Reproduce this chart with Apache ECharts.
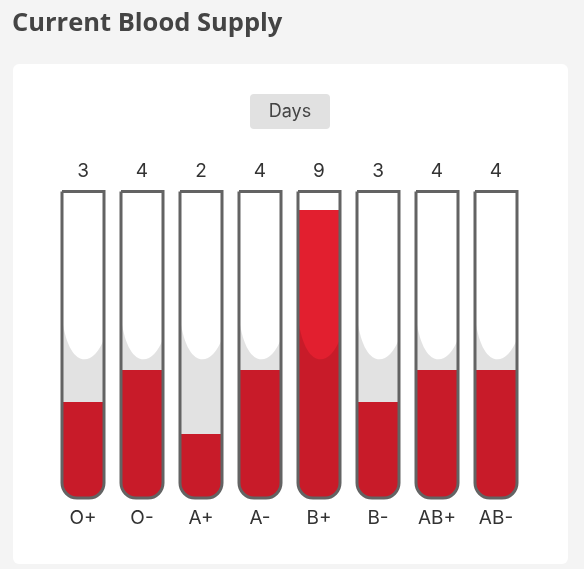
<!DOCTYPE html>
<html>
<head>
<meta charset="utf-8">
<script src="https://cdn.jsdelivr.net/npm/echarts@6/dist/echarts.min.js"></script>
<style>
  html, body { margin: 0; padding: 0; background: #f4f4f4; }
  #blood-chart { width: 584px; height: 569px; }
</style>
</head>
<body>
<div id="blood-chart"></div>
<script>
// blood types and days of supply on hand
const bloodTypes = ['O+', 'O-', 'A+', 'A-', 'B+', 'B-', 'AB+', 'AB-']
const daysSupply = [3, 4, 2, 4, 9, 3, 4, 4]

const labelFont = 'Inter, "Noto Sans", sans-serif'

function renderTube (params, api) {
  const idx = api.value(0)
  const days = api.value(1)
  const cs = params.coordSys
  const base = api.coord([idx, 0])
  const cx = base[0]
  const bottom = base[1]
  const top = cs.y
  const level = api.coord([idx, days])[1]
  const half = 21
  const r = 15
  const L = cx - half
  const R = cx + half
  const y0 = top + 128
  // shadow / meniscus overlay on the lower part of the tube
  const shadowPath = 'M' + L + ' ' + y0 +
    ' C' + (cx - 14) + ' ' + (top + 180) + ' ' + (cx + 10) + ' ' + (top + 178) + ' ' + R + ' ' + (top + 149) +
    ' L' + R + ' ' + (bottom - r) +
    ' A' + r + ' ' + r + ' 0 0 1 ' + (R - r) + ' ' + bottom +
    ' L' + (L + r) + ' ' + bottom +
    ' A' + r + ' ' + r + ' 0 0 1 ' + L + ' ' + (bottom - r) + ' Z'
  return {
    type: 'group',
    children: [
      {
        type: 'rect',
        shape: { x: L, y: top, width: half * 2, height: bottom - top, r: [0, 0, r, r] },
        style: { fill: '#ffffff' }
      },
      {
        type: 'rect',
        shape: { x: L, y: level, width: half * 2, height: bottom - level, r: [0, 0, r, r] },
        style: { fill: '#e21f2f' }
      },
      {
        type: 'path',
        shape: { pathData: shadowPath, x: L, y: y0, width: half * 2, height: bottom - y0, layout: 'cover' },
        style: { fill: 'rgba(0,0,0,0.115)' }
      },
      {
        type: 'rect',
        shape: { x: L, y: top + 1.5, width: half * 2, height: bottom - top - 1.5, r: [0, 0, r, r] },
        style: { fill: 'none', stroke: '#636363', lineWidth: 3 }
      },
      {
        type: 'text',
        x: cx,
        y: top - 19,
        style: {
          text: String(days),
          align: 'center',
          verticalAlign: 'middle',
          fontSize: 19,
          fontFamily: labelFont,
          fill: '#333'
        }
      }
    ]
  }
}

const chart = echarts.init(document.getElementById('blood-chart'))
const option = {
  backgroundColor: '#f4f4f4',
  title: {
    text: 'Current Blood Supply',
    left: 7,
    top: 6,
    textStyle: {
      fontFamily: '"Open Sans", sans-serif',
      fontWeight: 'bold',
      fontSize: 25.5,
      color: '#444'
    }
  },
  graphic: [
    {
      type: 'rect',
      z: -10,
      shape: { x: 13, y: 64, width: 555, height: 500, r: 6 },
      style: { fill: '#ffffff' }
    },
    {
      type: 'rect',
      shape: { x: 250, y: 94, width: 80, height: 35, r: 4 },
      style: { fill: '#e1e1e1' }
    },
    {
      type: 'text',
      x: 290,
      y: 111.5,
      style: {
        text: 'Days',
        align: 'center',
        verticalAlign: 'middle',
        fontSize: 18,
        fontFamily: labelFont,
        fill: '#444'
      }
    }
  ],
  grid: {
    left: 53.5,
    right: 58.5,
    top: 190,
    bottom: 71
  },
  xAxis: {
    type: 'category',
    data: bloodTypes,
    axisLine: { show: false },
    axisTick: { show: false },
    axisLabel: {
      margin: 11,
      color: '#333',
      fontSize: 19,
      fontFamily: labelFont
    }
  },
  yAxis: {
    type: 'value',
    min: 0,
    max: 9.625,
    show: false
  },
  series: [{
    type: 'custom',
    renderItem: renderTube,
    encode: { x: 0, y: 1 },
    data: daysSupply.map((d, i) => [i, d])
  }]
}
chart.setOption(option)
</script>
</body>
</html>
